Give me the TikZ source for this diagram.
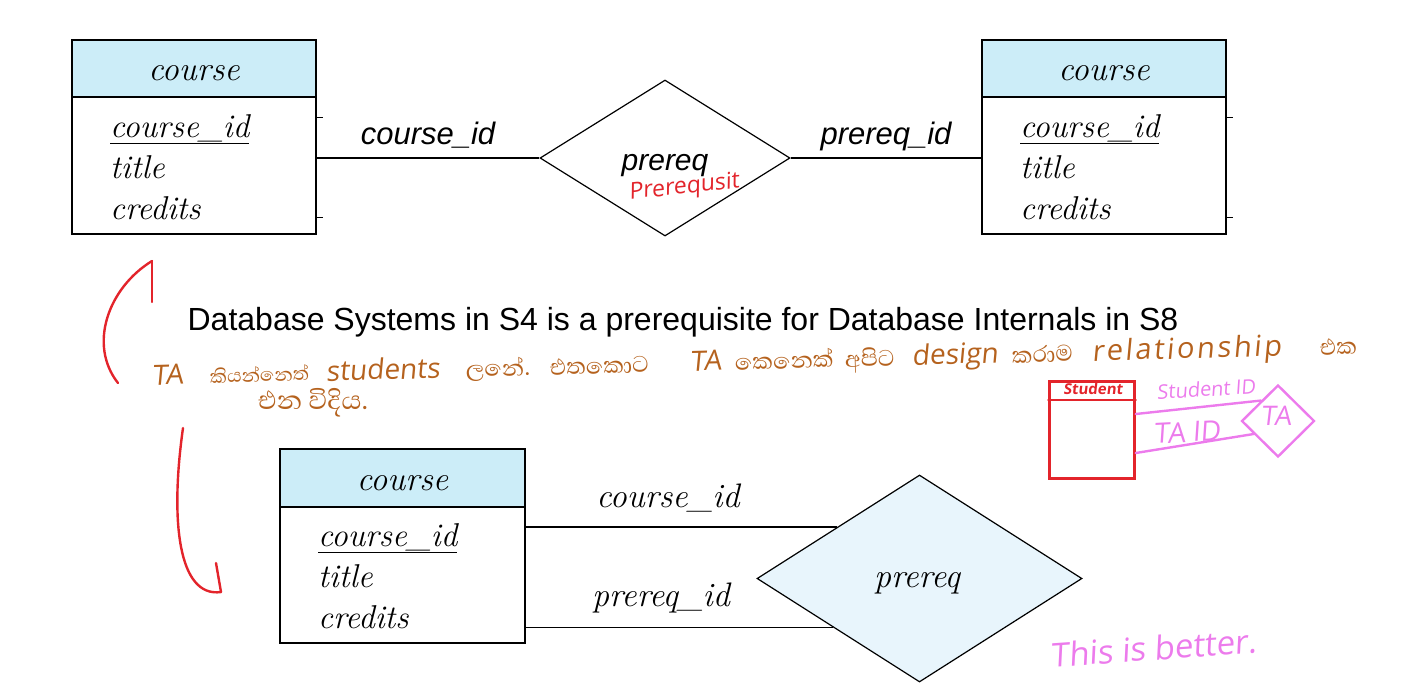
\documentclass[tikz,border=0pt]{standalone}
\usepackage{fontspec}
\newfontfamily\arialf{Liberation Sans}
\newfontfamily\sinhfont[Script=Sinhala]{Abhaya Libre}
\newfontfamily\handf[FakeSlant=0.12]{Open Sans}
\newfontfamily\handwide[FakeSlant=0.12, LetterSpace=9]{Open Sans}
\usetikzlibrary{shapes.geometric,calc}
\definecolor{headblue}{HTML}{CCEDF8}
\definecolor{diafill}{HTML}{E8F5FC}
\definecolor{inkbrown}{HTML}{B5621E}
\definecolor{inkred}{HTML}{E3242B}
\definecolor{inkpink}{HTML}{EC7BEC}
\begin{document}
\begin{tikzpicture}[x=1pt,y=-1pt,
  ehead/.style={draw, fill=headblue, minimum width=244pt, minimum height=57pt, inner sep=0pt, line width=1.2pt},
  ebody/.style={draw, fill=white, minimum width=244pt, minimum height=137pt, inner sep=0pt, line width=1.2pt},
  etitle/.style={font=\fontsize{34}{38}\selectfont\itshape, inner sep=0pt, anchor=base},
  attr/.style={font=\fontsize{33}{38}\selectfont\itshape, inner sep=0pt, anchor=base west},
  slabel/.style={font=\arialf\fontsize{31}{36}\selectfont\itshape, inner sep=0pt, anchor=base},
  rlabel/.style={font=\fontsize{34}{38}\selectfont\itshape, inner sep=0pt, anchor=base},
  conn/.style={line width=1.2pt},
  redink/.style={draw=inkred, line width=2.4pt, line cap=round, line join=round},
  pinkink/.style={draw=inkpink, line width=2.4pt, line cap=round, line join=round},
  tick/.style={line width=1pt},
  snote/.style={font=\sinhfont\fontsize{29}{34}\selectfont, text=inkbrown, rotate=1.5, inner sep=0pt, anchor=base west},
  lnote/.style={font=\handf\fontsize{28}{32}\selectfont, text=inkbrown, rotate=1.5, inner sep=0pt, anchor=base west}
]
\useasboundingbox (0,0) rectangle (1420,689);

% ---------- top left entity ----------
\node[ebody] (b1) at (194,165.5) {};
\node[ehead] (h1) at (194,68.5) {};
\node[etitle] (t1) at (194,80) {course};
\node[attr] (a1a) at (110,137) {\underline{course\_id}};
\node[attr] (a1b) at (110,178) {title};
\node[attr] (a1c) at (110,219) {credits};
\draw[tick] (b1.east |- 0,117) -- ++(6,0);
\draw[tick] (b1.east |- 0,217) -- ++(6,0);

% ---------- top right entity ----------
\node[ebody] (b3) at (1104,165.5) {};
\node[ehead] (h3) at (1104,68.5) {};
\node[etitle] (t3) at (1104,80) {course};
\node[attr] (a3a) at (1020,137) {\underline{course\_id}};
\node[attr] (a3b) at (1020,178) {title};
\node[attr] (a3c) at (1020,219) {credits};
\draw[tick] (b3.east |- 0,117) -- ++(6,0);
\draw[tick] (b3.east |- 0,217) -- ++(6,0);

% ---------- top diamond ----------
\node[diamond, draw, fill=white, minimum width=250pt, minimum height=156pt, inner sep=0pt, line width=1.2pt] (d1) at (665,158) {};
\node[slabel, font=\arialf\fontsize{30}{36}\selectfont\itshape] (d1t) at (665,170) {prereq};
\draw[conn] (d1.west -| b1.east) -- (d1.west);
\draw[conn] (d1.east) -- (d1.east -| b3.west);
\node[slabel] (l1) at (428,144) {course\_id};
\node[slabel] (l2) at (886,144) {prereq\_id};
\node[font=\handf\fontsize{23}{26}\selectfont, text=inkred, rotate=6, inner sep=0pt] (pr) at (684,188) {Prerequsit};

% ---------- caption ----------
\node[font=\arialf\fontsize{32}{36}\selectfont, inner sep=0pt, anchor=base] (cap) at (683,330) {Database Systems in S4 is a prerequisite for Database Internals in S8};

% ---------- brown handwritten note ----------
\node[lnote] (w1) at (152,385) {TA};
\node[snote, font=\sinhfont\fontsize{24}{30}\selectfont] (w2) at (210,383) {කියන්නෙත්};
\node[lnote] (w3) at (326,381) {students};
\node[snote] (w4) at (466,377) {ලනේ.};
\node[snote] (w5) at (550,375) {එතකොට};
\node[lnote] (w6) at (690,371) {TA};
\node[snote] (w7) at (735,370) {කෙනෙක්};
\node[snote] (w8) at (845,367) {අපිට};
\node[lnote] (w9) at (912,365) {design};
\node[snote] (w10) at (1012,363) {කරාම};
\node[lnote, font=\handwide\fontsize{29}{32}\selectfont] (w11) at (1092,361) {relationship};
\node[snote] (w12) at (1320,355) {එක};
\node[font=\sinhfont\fontsize{33}{36}\selectfont, text=inkbrown, inner sep=0pt, anchor=base west] (note2) at (258,409) {එන විදිය.};

% ---------- red arrows ----------
\coordinate (ra1s) at (118,383);
\coordinate (ra1t) at (152,261);
\draw[redink] (ra1s) .. controls (88,345) and (108,288) .. (ra1t);
\draw[redink] (ra1t) -- (152,302);
\coordinate (ra2s) at (183,428);
\coordinate (ra2t) at (221,592);
\draw[redink] (ra2s) .. controls (170,520) and (178,598) .. (ra2t);
\draw[redink] (ra2t) -- (216,563);

% ---------- bottom entity ----------
\node[ebody, minimum width=245pt, minimum height=136pt] (b2) at (402.5,575) {};
\node[ehead, minimum width=245pt, minimum height=58pt] (h2) at (402.5,478) {};
\node[etitle] (t2) at (402.5,490) {course};
\node[attr] (a2a) at (318,546) {\underline{course\_id}};
\node[attr] (a2b) at (318,587) {title};
\node[attr] (a2c) at (318,628) {credits};

% ---------- bottom diamond ----------
\node[diamond, draw, fill=diafill, minimum width=325pt, minimum height=207pt, inner sep=0pt, line width=1.2pt] (d2) at (919.5,578.5) {};
\node[rlabel] (d2t) at (917,587) {prereq};
\coordinate (p1) at ($(d2.west)!0.495!(d2.north)$);
\coordinate (p2) at ($(d2.west)!0.47!(d2.south)$);
\draw[conn] (p1 -| b2.east) -- (p1);
\draw[conn] (p2 -| b2.east) -- (p2);
\node[rlabel] (l3) at (668,507) {course\_id};
\node[rlabel] (l4) at (661,606) {prereq\_id};

% ---------- pink note ----------
\node[font=\handf\fontsize{33}{36}\selectfont, text=inkpink, rotate=4, inner sep=0pt] (better) at (1153,648) {This is better.};

% ---------- sketch ----------
\node[draw=inkred, line width=2.4pt, minimum width=85pt, minimum height=97pt, inner sep=0pt] (sk) at (1092,430) {};
\draw[redink] (sk.west |- 0,400) -- (sk.east |- 0,400);
\node[font=\handf\fontsize{15}{16}\selectfont\bfseries, text=inkred, inner sep=0pt] (skt) at (1093,389) {Student};
\node[diamond, draw=inkpink, line width=2.4pt, minimum width=73pt, minimum height=72pt, inner sep=0pt] (td) at (1278,421) {};
\node[font=\handf\fontsize{27}{30}\selectfont, text=inkpink, inner sep=0pt] (tdt) at (1276,416) {TA};
\coordinate (q1) at ($(td.west)!0.55!(td.north)$);
\coordinate (q2) at ($(td.west)!0.35!(td.south)$);
\draw[pinkink] (sk.east |- 0,414) -- (q1);
\draw[pinkink] (sk.east |- 0,453) -- (q2);
\node[font=\handf\fontsize{20}{24}\selectfont, text=inkpink, rotate=3, inner sep=0pt] (sid) at (1206,389) {Student ID};
\node[font=\handf\fontsize{28}{30}\selectfont, text=inkpink, rotate=3, inner sep=0pt] (tid) at (1187,432) {TA ID};
\end{tikzpicture}
\end{document}
